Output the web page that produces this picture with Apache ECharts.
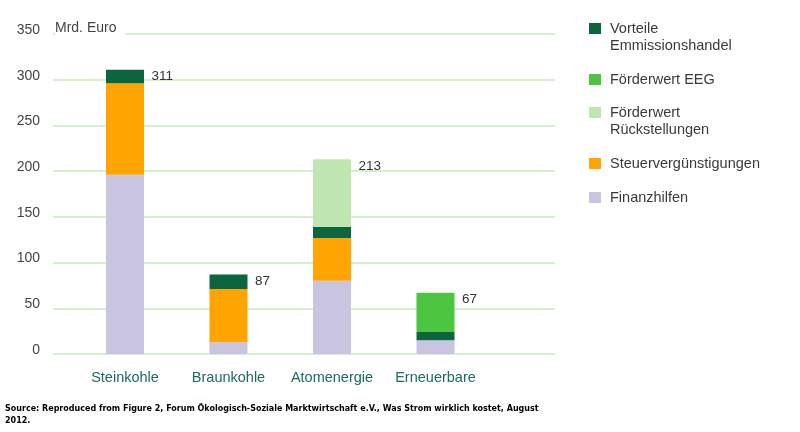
<!DOCTYPE html>
<html>
<head>
<meta charset="utf-8">
<script src="https://cdn.jsdelivr.net/npm/echarts@6/dist/echarts.min.js"></script>
<style>
html,body{margin:0;padding:0;background:#fff;}
#c{width:800px;height:432px;}
</style>
</head>
<body>
<div id="c"></div>
<script>
const categories = ['Steinkohle', 'Braunkohle', 'Atomenergie', 'Erneuerbare'];
const finanzhilfen = [196, 13, 80, 15];
const steuer = [100, 58, 47, 0];
const vorteile = [15, 16, 12, 9];
const rueckstellungen = [0, 0, 74, 0];
const eeg = [0, 0, 0, 43];
const totals = [311, 87, 213, 67];
const yTicks = [0, 50, 100, 150, 200, 250, 300, 350];

const names = {
  vorteile: 'Vorteile\nEmmissionshandel',
  eeg: 'Förderwert EEG',
  rueck: 'Förderwert\nRückstellungen',
  steuer: 'Steuervergünstigungen',
  fin: 'Finanzhilfen'
};
const colors = {
  vorteile: '#0b6640', eeg: '#4cc540', rueck: '#bfe6b0', steuer: '#ffa400', fin: '#c9c5e1'
};
const FONT = 'Liberation Sans, Arial, sans-serif';

const chart = echarts.init(document.getElementById('c'), null, {renderer: 'canvas'});

function legendItem(name, top, multi) {
  return {
    data: [name],
    left: 589,
    top: top,
    orient: 'vertical',
    padding: 0,
    itemWidth: 12,
    itemHeight: 11,
    itemGap: 0,
    selectedMode: false,
    icon: 'rect',
    formatter: n => multi ? ' \n' + n : n,
    textStyle: {
      fontFamily: FONT, fontSize: 14.5, color: '#3a3a3a', lineHeight: 17,
      padding: [0, 0, 0, 4]
    }
  };
}

function barSeries(key, data) {
  return {
    name: names[key], type: 'bar', stack: 'total', xAxisIndex: 1, yAxisIndex: 1,
    barWidth: 38, data: data, itemStyle: {color: colors[key]}, emphasis: {disabled: true}
  };
}

chart.setOption({
  animation: false,
  backgroundColor: '#fff',
  grid: [
    {left: 53, right: 245, top: 34, bottom: 78},
    {left: 73.25, right: 312.75, top: 34, bottom: 78}
  ],
  legend: [
    legendItem(names.vorteile, 3, true),
    legendItem(names.eeg, 71, false),
    legendItem(names.rueck, 87, true),
    legendItem(names.steuer, 155, false),
    legendItem(names.fin, 189, false)
  ],
  xAxis: [
    {gridIndex: 0, type: 'category', data: categories, show: false},
    {gridIndex: 1, type: 'category', data: categories,
     axisLine: {show: false}, axisTick: {show: false},
     axisLabel: {interval: 0, hideOverlap: false, margin: 16, fontFamily: FONT,
       fontSize: 14.5, color: '#1d6b5b'}}
  ],
  yAxis: [
    {gridIndex: 0, type: 'value', min: 0, max: 350, interval: 50,
     axisLine: {show: false}, axisTick: {show: false},
     axisLabel: {margin: 13, fontFamily: FONT, fontSize: 14, color: '#444',
       verticalAlign: 'bottom', lineHeight: 8,
       formatter: v => yTicks.includes(v) ? String(v) : ''},
     splitLine: {lineStyle: {color: '#c8ebbd', width: 1.5}}},
    {gridIndex: 1, type: 'value', min: 0, max: 350, interval: 50, show: false,
     splitLine: {show: false}}
  ],
  series: [
    barSeries('fin', finanzhilfen),
    barSeries('steuer', steuer),
    barSeries('vorteile', vorteile),
    barSeries('rueck', rueckstellungen),
    barSeries('eeg', eeg),
    {
      type: 'scatter', xAxisIndex: 1, yAxisIndex: 1, data: totals,
      symbolSize: 1, itemStyle: {opacity: 0}, silent: true,
      label: {show: true, position: 'right', distance: 0, offset: [26, 7],
        fontFamily: FONT, fontSize: 13.5, color: '#333', opacity: 1,
        formatter: p => String(p.value)}
    }
  ],
  graphic: [
    {type: 'text', left: 55, top: 19, z: 100,
     style: {text: 'Mrd. Euro', fontFamily: FONT, fontSize: 14, fill: '#444',
       backgroundColor: '#fff', padding: [2, 9, 2, 0]}},
    {type: 'text', left: 5, top: 403,
     style: {text: 'Source: Reproduced from Figure 2, Forum Ökologisch-Soziale Marktwirtschaft e.V., Was Strom wirklich kostet, August\n2012.',
       fontFamily: 'DejaVu Sans, Verdana, sans-serif', fontWeight: 'bold', fontSize: 8, lineHeight: 12, fill: '#000'}}
  ]
});
</script>
</body>
</html>
